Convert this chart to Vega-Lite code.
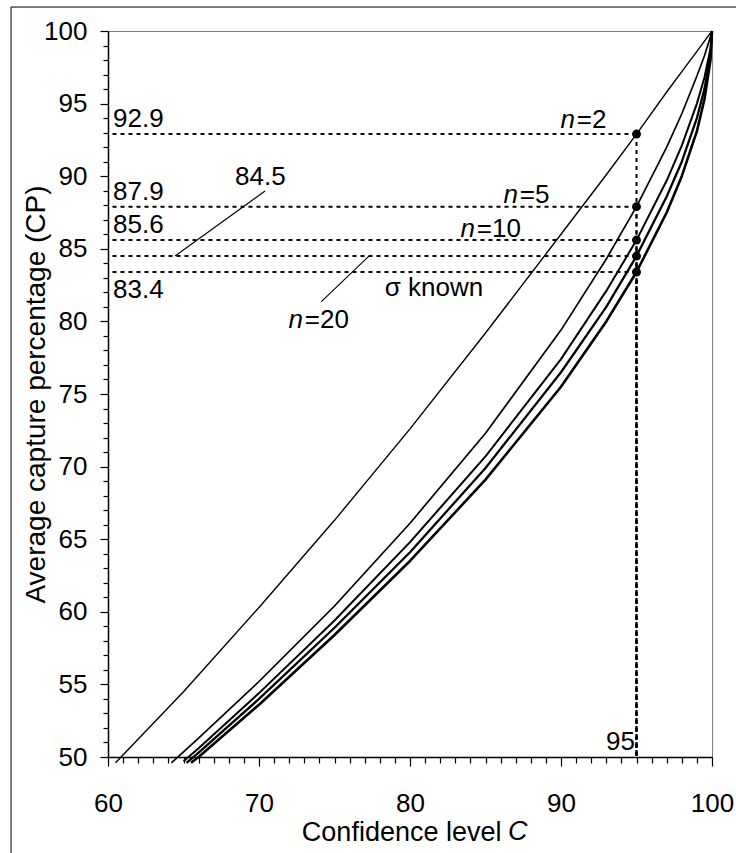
{
  "$schema": "https://vega.github.io/schema/vega-lite/v6.json",
  "width": 604,
  "height": 726,
  "autosize": {"type": "none"},
  "padding": {"left": 108, "top": 31, "right": 24, "bottom": 96},
  "background": "white",
  "config": {
    "view": {"stroke": "#808080", "strokeWidth": 1},
    "font": "Liberation Sans",
    "text": {"font": "Liberation Sans"}
  },
  "datasets": {
    "curves": [
      {"series": "sigma known", "C": 65.5, "CP": 49.6},
      {"series": "sigma known", "C": 66, "CP": 50.0},
      {"series": "sigma known", "C": 70, "CP": 53.6},
      {"series": "sigma known", "C": 75, "CP": 58.4},
      {"series": "sigma known", "C": 80, "CP": 63.5},
      {"series": "sigma known", "C": 85, "CP": 69.1},
      {"series": "sigma known", "C": 90, "CP": 75.5},
      {"series": "sigma known", "C": 93, "CP": 80.0},
      {"series": "sigma known", "C": 95, "CP": 83.4},
      {"series": "sigma known", "C": 97, "CP": 87.5},
      {"series": "sigma known", "C": 98, "CP": 90.0},
      {"series": "sigma known", "C": 99, "CP": 93.1},
      {"series": "sigma known", "C": 99.5, "CP": 95.3},
      {"series": "sigma known", "C": 99.9, "CP": 98.0},
      {"series": "sigma known", "C": 100, "CP": 100},
      {"series": "n=20", "C": 65.2, "CP": 49.6},
      {"series": "n=20", "C": 66, "CP": 50.3},
      {"series": "n=20", "C": 70, "CP": 54.0},
      {"series": "n=20", "C": 75, "CP": 58.9},
      {"series": "n=20", "C": 80, "CP": 64.1},
      {"series": "n=20", "C": 85, "CP": 69.9},
      {"series": "n=20", "C": 90, "CP": 76.5},
      {"series": "n=20", "C": 93, "CP": 81.0},
      {"series": "n=20", "C": 95, "CP": 84.5},
      {"series": "n=20", "C": 97, "CP": 88.6},
      {"series": "n=20", "C": 98, "CP": 91.0},
      {"series": "n=20", "C": 99, "CP": 94.0},
      {"series": "n=20", "C": 99.5, "CP": 96.0},
      {"series": "n=20", "C": 99.9, "CP": 98.4},
      {"series": "n=20", "C": 100, "CP": 100},
      {"series": "n=10", "C": 65.0, "CP": 49.7},
      {"series": "n=10", "C": 66, "CP": 50.6},
      {"series": "n=10", "C": 70, "CP": 54.4},
      {"series": "n=10", "C": 75, "CP": 59.4},
      {"series": "n=10", "C": 80, "CP": 64.8},
      {"series": "n=10", "C": 85, "CP": 70.7},
      {"series": "n=10", "C": 90, "CP": 77.4},
      {"series": "n=10", "C": 93, "CP": 82.1},
      {"series": "n=10", "C": 95, "CP": 85.6},
      {"series": "n=10", "C": 97, "CP": 89.7},
      {"series": "n=10", "C": 98, "CP": 92.1},
      {"series": "n=10", "C": 99, "CP": 95.0},
      {"series": "n=10", "C": 99.5, "CP": 96.8},
      {"series": "n=10", "C": 99.9, "CP": 98.8},
      {"series": "n=10", "C": 100, "CP": 100},
      {"series": "n=5", "C": 64.2, "CP": 49.6},
      {"series": "n=5", "C": 66, "CP": 51.3},
      {"series": "n=5", "C": 70, "CP": 55.2},
      {"series": "n=5", "C": 75, "CP": 60.4},
      {"series": "n=5", "C": 80, "CP": 66.1},
      {"series": "n=5", "C": 85, "CP": 72.3},
      {"series": "n=5", "C": 90, "CP": 79.4},
      {"series": "n=5", "C": 93, "CP": 84.3},
      {"series": "n=5", "C": 95, "CP": 87.9},
      {"series": "n=5", "C": 97, "CP": 92.0},
      {"series": "n=5", "C": 98, "CP": 94.3},
      {"series": "n=5", "C": 99, "CP": 96.9},
      {"series": "n=5", "C": 99.5, "CP": 98.3},
      {"series": "n=5", "C": 99.9, "CP": 99.6},
      {"series": "n=5", "C": 100, "CP": 100},
      {"series": "n=2", "C": 60.5, "CP": 49.6},
      {"series": "n=2", "C": 65, "CP": 54.5},
      {"series": "n=2", "C": 70, "CP": 60.3},
      {"series": "n=2", "C": 75, "CP": 66.3},
      {"series": "n=2", "C": 80, "CP": 72.6},
      {"series": "n=2", "C": 85, "CP": 79.2},
      {"series": "n=2", "C": 90, "CP": 86.0},
      {"series": "n=2", "C": 93, "CP": 90.1},
      {"series": "n=2", "C": 95, "CP": 92.9},
      {"series": "n=2", "C": 97, "CP": 95.8},
      {"series": "n=2", "C": 98, "CP": 97.2},
      {"series": "n=2", "C": 99, "CP": 98.6},
      {"series": "n=2", "C": 99.5, "CP": 99.3},
      {"series": "n=2", "C": 100, "CP": 100}
    ],
    "refs": [
      {"C": 95, "C0": 60, "CP": 92.9, "CP0": 50},
      {"C": 95, "C0": 60, "CP": 87.9, "CP0": 50},
      {"C": 95, "C0": 60, "CP": 85.6, "CP0": 50},
      {"C": 95, "C0": 60, "CP": 84.5, "CP0": 50},
      {"C": 95, "C0": 60, "CP": 83.4, "CP0": 50}
    ],
    "frame": [
      {"C": 53.58, "C2": 102.5, "CP": 101.65, "CP2": 42}
    ],
    "leaders": [
      {"C": 64.44, "CP": 84.5, "C2": 70.4, "CP2": 88.98},
      {"C": 74.11, "CP": 81.34, "C2": 77.28, "CP2": 84.5}
    ],
    "labels": [
      {"kind": "ni", "text": "n", "C": 90.93, "CP": 93.32},
      {"kind": "ni", "text": "n", "C": 87.15, "CP": 88.15},
      {"kind": "ni", "text": "n", "C": 84.30, "CP": 85.81},
      {"kind": "ni", "text": "n", "C": 72.91, "CP": 79.55},
      {"kind": "l", "text": "=2", "C": 91.05, "CP": 93.32},
      {"kind": "l", "text": "=5", "C": 87.27, "CP": 88.15},
      {"kind": "l", "text": "=10", "C": 84.42, "CP": 85.81},
      {"kind": "l", "text": "=20", "C": 73.03, "CP": 79.55},
      {"kind": "l", "text": "92.9", "C": 60.33, "CP": 93.39},
      {"kind": "l", "text": "87.9", "C": 60.33, "CP": 88.36},
      {"kind": "l", "text": "85.6", "C": 60.33, "CP": 86.09},
      {"kind": "l", "text": "83.4", "C": 60.33, "CP": 81.61},
      {"kind": "l", "text": "84.5", "C": 68.41, "CP": 89.39},
      {"kind": "c", "text": "σ known", "C": 81.59, "CP": 81.75},
      {"kind": "r", "text": "95", "C": 94.9, "CP": 50.48},
      {"kind": "ci", "text": "C", "C": 86.49, "CP": 44.28}
    ]
  },
  "encoding": {
    "x": {
      "field": "C", "type": "quantitative",
      "scale": {"domain": [60, 100], "nice": false, "zero": false},
      "axis": {
        "title": "Confidence level",
        "titleFont": "Liberation Sans", "titleFontSize": 27, "titleFontWeight": "normal", "titleColor": "black",
        "titleAlign": "right", "titleAnchor": "start", "titleX": 393, "titleY": 83, "titleBaseline": "alphabetic",
        "values": [60,61,62,63,64,65,66,67,68,69,70,71,72,73,74,75,76,77,78,79,80,81,82,83,84,85,86,87,88,89,90,91,92,93,94,95,96,97,98,99,100],
        "labelExpr": "datum.value % 10 === 0 ? datum.label : ''",
        "labelFont": "Liberation Sans", "labelFontSize": 26, "labelColor": "black", "labelPadding": 24,
        "labelFlush": false, "labelOverlap": false,
        "tickSize": {"condition": {"test": "datum.value % 10 === 0", "value": 9}, "value": 6},
        "tickColor": "black", "tickWidth": 1.2,
        "domainColor": "black", "domainWidth": 1.5, "grid": false
      }
    },
    "y": {
      "field": "CP", "type": "quantitative",
      "scale": {"domain": [50, 100], "nice": false, "zero": false},
      "axis": {
        "title": "Average capture percentage (CP)",
        "titleFont": "Liberation Sans", "titleFontSize": 28, "titleFontWeight": "normal", "titleColor": "black",
        "titleAngle": 270, "titleAlign": "center", "titleAnchor": "start", "titleX": -64, "titleY": 363, "titleBaseline": "alphabetic",
        "values": [50,51,52,53,54,55,56,57,58,59,60,61,62,63,64,65,66,67,68,69,70,71,72,73,74,75,76,77,78,79,80,81,82,83,84,85,86,87,88,89,90,91,92,93,94,95,96,97,98,99,100],
        "labelExpr": "datum.value % 5 === 0 ? datum.label : ''",
        "labelFont": "Liberation Sans", "labelFontSize": 26, "labelColor": "black", "labelPadding": 13,
        "labelFlush": false, "labelOverlap": false,
        "tickSize": {"condition": {"test": "datum.value % 5 === 0", "value": 8}, "value": 5},
        "tickColor": "black", "tickWidth": 1.2,
        "domainColor": "black", "domainWidth": 1.5, "grid": false
      }
    }
  },
  "layer": [
    {
      "data": {"name": "curves"},
      "mark": {"type": "line", "color": "black", "clip": false, "strokeJoin": "round"},
      "encoding": {
        "detail": {"field": "series", "type": "nominal"},
        "strokeWidth": {
          "field": "series", "type": "ordinal",
          "scale": {"domain": ["sigma known", "n=20", "n=10", "n=5", "n=2"], "range": [2.6, 1.4, 1.1, 1.1, 1.1]},
          "legend": null
        }
      }
    },
    {
      "data": {"name": "frame"},
      "mark": {"type": "rect", "filled": false, "stroke": "black", "strokeWidth": 1, "clip": false},
      "encoding": {
        "x2": {"field": "C2"},
        "y2": {"field": "CP2"}
      }
    },
    {
      "data": {"name": "refs"},
      "mark": {"type": "rule", "color": "black", "strokeDash": [4, 4], "strokeWidth": 2},
      "encoding": {
        "x2": {"field": "C0"}
      }
    },
    {
      "data": {"name": "refs"},
      "mark": {"type": "rule", "color": "black", "strokeDash": [4, 4], "strokeWidth": 2},
      "encoding": {
        "y2": {"field": "CP0"}
      }
    },
    {
      "data": {"name": "leaders"},
      "mark": {"type": "rule", "color": "black", "strokeWidth": 1.1},
      "encoding": {
        "x2": {"field": "C2"},
        "y2": {"field": "CP2"}
      }
    },
    {
      "data": {"name": "refs"},
      "mark": {"type": "point", "filled": true, "color": "black", "opacity": 1, "size": 80}
    },
    {
      "data": {"name": "labels"},
      "transform": [{"filter": "datum.kind === 'ni'"}],
      "mark": {"type": "text", "align": "right", "baseline": "alphabetic", "fontSize": 26, "fontStyle": "italic", "color": "black", "clip": false},
      "encoding": {"text": {"field": "text"}}
    },
    {
      "data": {"name": "labels"},
      "transform": [{"filter": "datum.kind === 'l'"}],
      "mark": {"type": "text", "align": "left", "baseline": "alphabetic", "fontSize": 26, "color": "black", "clip": false},
      "encoding": {"text": {"field": "text"}}
    },
    {
      "data": {"name": "labels"},
      "transform": [{"filter": "datum.kind === 'c'"}],
      "mark": {"type": "text", "align": "center", "baseline": "alphabetic", "fontSize": 26, "color": "black", "clip": false},
      "encoding": {"text": {"field": "text"}}
    },
    {
      "data": {"name": "labels"},
      "transform": [{"filter": "datum.kind === 'r'"}],
      "mark": {"type": "text", "align": "right", "baseline": "alphabetic", "fontSize": 26, "color": "black", "clip": false},
      "encoding": {"text": {"field": "text"}}
    },
    {
      "data": {"name": "labels"},
      "transform": [{"filter": "datum.kind === 'ci'"}],
      "mark": {"type": "text", "align": "left", "baseline": "alphabetic", "fontSize": 27, "fontStyle": "italic", "color": "black", "clip": false},
      "encoding": {"text": {"field": "text"}}
    }
  ]
}
